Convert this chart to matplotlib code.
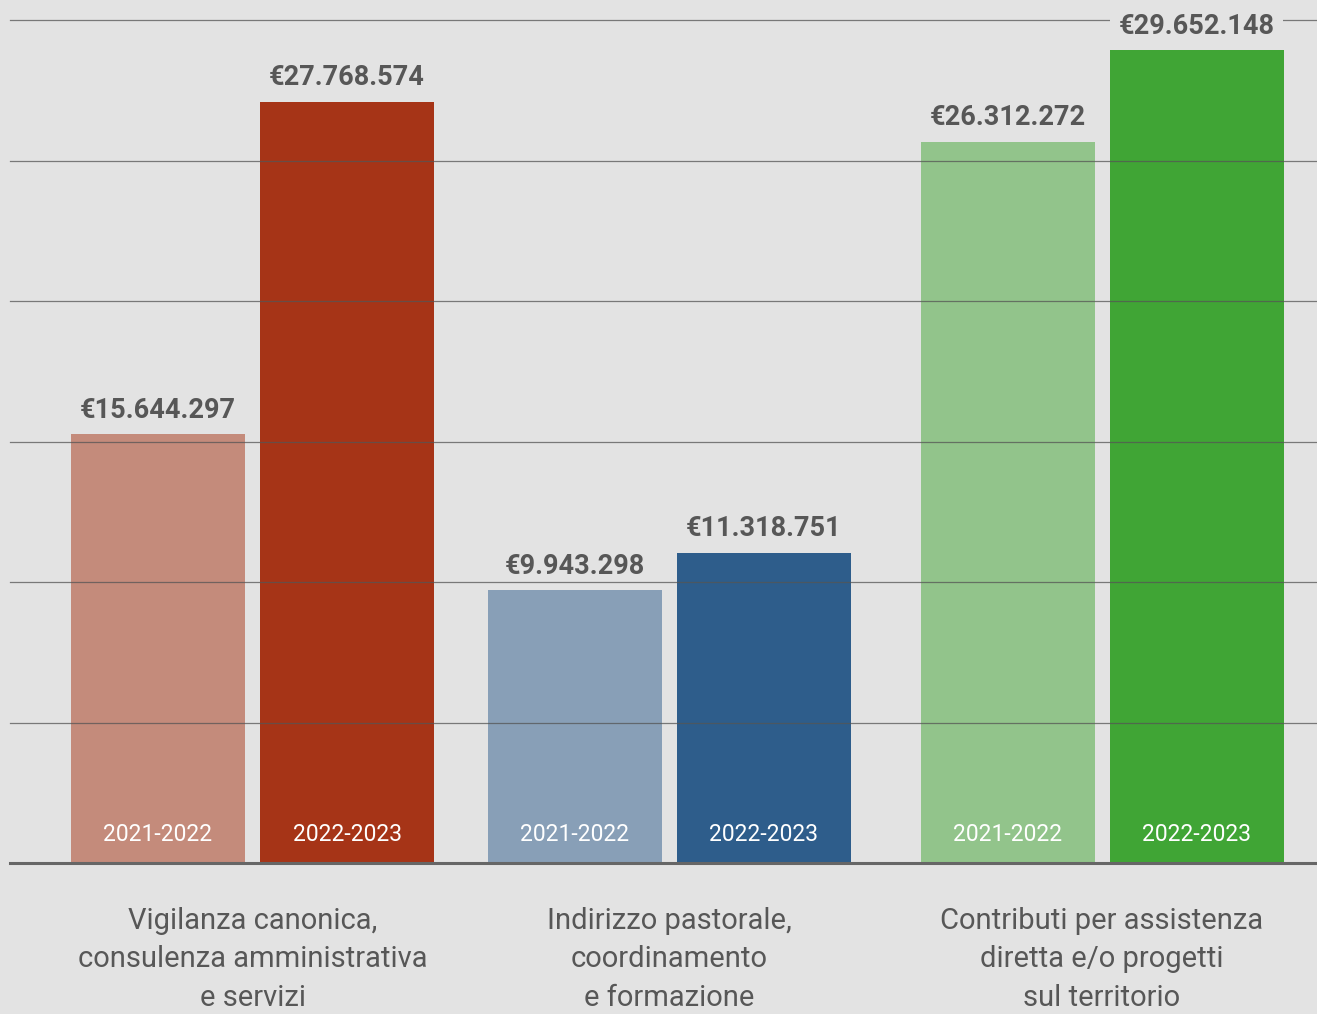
import matplotlib.pyplot as plt

categories = [
    "Vigilanza canonica,\nconsulenza amministrativa\ne servizi",
    "Indirizzo pastorale,\ncoordinamento\ne formazione",
    "Contributi per assistenza\ndiretta e/o progetti\nsul territorio",
]
years = ["2021-2022", "2022-2023"]
values_2122 = [15644297, 9943298, 26312272]
values_2223 = [27768574, 11318751, 29652148]

colors_2122 = ["#c48b7b", "#889fb7", "#92c48b"]
colors_2223 = ["#a63417", "#2e5d8b", "#40a535"]

BG = "#e3e3e3"
TXT = "#575757"
FONT = "Roboto"

# layout in pixel units along x
group_centers = [252.5, 669.5, 1102]
offset = 94.5
bar_w = 174
ymax = 30.755e6
top_val = max(values_2122 + values_2223)


def euro(v):
    return "€" + f"{v:,}".replace(",", ".")


fig = plt.figure(figsize=(13.17, 10.14), dpi=100, facecolor=BG)
ax = fig.add_axes([10 / 1317, 151 / 1014, 1307 / 1317, 843 / 1014])
ax.set_facecolor(BG)
ax.set_xlim(10, 1317)
ax.set_ylim(0, ymax)

for i, c in enumerate(group_centers):
    for x, v, col, yr in [(c - offset, values_2122[i], colors_2122[i], years[0]),
                          (c + offset, values_2223[i], colors_2223[i], years[1])]:
        ax.bar(x, v, width=bar_w, color=col, zorder=1)
        ax.text(x, 1.05e6, yr, ha="center", va="center", color="white",
                fontsize=16.5, family=FONT, zorder=4)
        box = None
        if v == top_val:
            box = dict(boxstyle="square,pad=0.3", facecolor=BG, edgecolor="none")
        ax.text(x, v + 0.88e6, euro(v), ha="center", va="center", color=TXT,
                fontsize=19.5, fontweight="bold", family=FONT, zorder=5,
                clip_on=False, bbox=box)
    ax.text(c, -1.6e6, categories[i], ha="center", va="top", color=TXT,
            fontsize=21, family=FONT, linespacing=1.48, clip_on=False)

for k in range(1, 7):
    ax.axhline(ymax * k / 6, color="#555555", lw=0.9, alpha=0.75, zorder=3, clip_on=False)
ax.axhline(0, color="#666666", lw=2.2, zorder=3, clip_on=False)

for s in ax.spines.values():
    s.set_visible(False)
ax.set_xticks([])
ax.set_yticks([])

fig.savefig("out.png", dpi=100, facecolor=BG)
